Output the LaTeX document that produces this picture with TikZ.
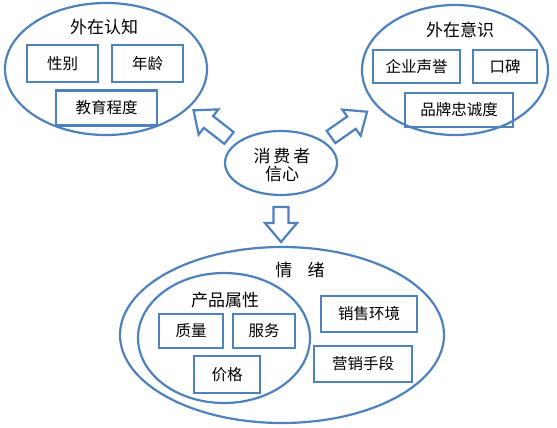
\documentclass[tikz,border=0pt]{standalone}
\usepackage{fontspec}
\setmainfont{Noto Sans CJK SC}
\usetikzlibrary{shapes.geometric}
\definecolor{ob}{RGB}{79,129,189}
\tikzset{
  oval/.style={draw=ob, line width=2.2pt, ellipse, inner sep=0pt},
  box/.style={draw=ob, line width=2.6pt, rectangle, inner sep=0pt, font=\fontsize{15.5}{17}\selectfont},
  ttl/.style={font=\fontsize{17}{19}\selectfont, inner sep=0pt},
  blockarrow/.style={draw=ob, line width=2.2pt, fill=white, line join=miter}
}
\newcommand{\barrow}[5]{% shift x, y, angle, length, name
  \begin{scope}[shift={(#1,#2)}, rotate=#3]
    \coordinate (#5) at (#4,0);
    \draw[blockarrow] (0,-7.5) -- ({#4-19},-7.5) -- ({#4-19},-16) -- (#4,0) -- ({#4-19},16) -- ({#4-19},7.5) -- (0,7.5) -- cycle;
  \end{scope}}
\begin{document}
\begin{tikzpicture}[x=1pt,y=-1pt]
\useasboundingbox (0,0) rectangle (557,428);
% left ellipse
\node[oval, minimum width=202pt, minimum height=132pt] (L) at (106,69) {};
\node[ttl] (Lt) at (104,27) {外在认知};
\node[box, minimum width=71pt, minimum height=37pt] (b1) at (62.5,63.5) {性别};
\node[box, minimum width=71pt, minimum height=37pt] (b2) at (147.5,63.5) {年龄};
\node[box, minimum width=101pt, minimum height=35pt] (b3) at (106.5,108) {教育程度};
% right ellipse
\node[oval, minimum width=186pt, minimum height=130pt] (R) at (455,70) {};
\node[ttl] (Rt) at (460,30) {外在意识};
\node[box, minimum width=87pt, minimum height=33pt] (c1) at (416.5,66.5) {企业声誉};
\node[box, minimum width=64pt, minimum height=33pt] (c2) at (505,66.5) {口碑};
\node[box, minimum width=108pt, minimum height=34pt] (c3) at (459,110) {品牌忠诚度};
% centre
\node[oval, minimum width=112pt, minimum height=64pt] (C) at (281,163) {};
\node[ttl, align=center] (Ct) at (282,165) {消\hspace{3pt}费\hspace{3pt}者\\[-1pt]信心};
% bottom ellipse
\node[oval, minimum width=324pt, minimum height=176pt] (B) at (282,335) {};
\node[ttl] (Bt) at (300,270) {情\hspace{0.9em}绪};
\node[oval, minimum width=172pt, minimum height=130pt] (P) at (224,338) {};
\node[ttl] (Pt) at (225,300) {产品属性};
\node[box, minimum width=64pt, minimum height=34pt] (d1) at (191,331) {质量};
\node[box, minimum width=62pt, minimum height=34pt] (d2) at (264,331) {服务};
\node[box, minimum width=66pt, minimum height=37pt] (d3) at (227,374.5) {价格};
\node[box, minimum width=96pt, minimum height=36pt] (e1) at (369,314) {销售环境};
\node[box, minimum width=98pt, minimum height=36pt] (e2) at (363,364) {营销手段};
% block arrows
\barrow{229}{138}{142}{45}{aL}
\barrow{331}{137}{35}{44}{aR}
\barrow{281}{207}{-90}{35}{aD}
\end{tikzpicture}
\end{document}
